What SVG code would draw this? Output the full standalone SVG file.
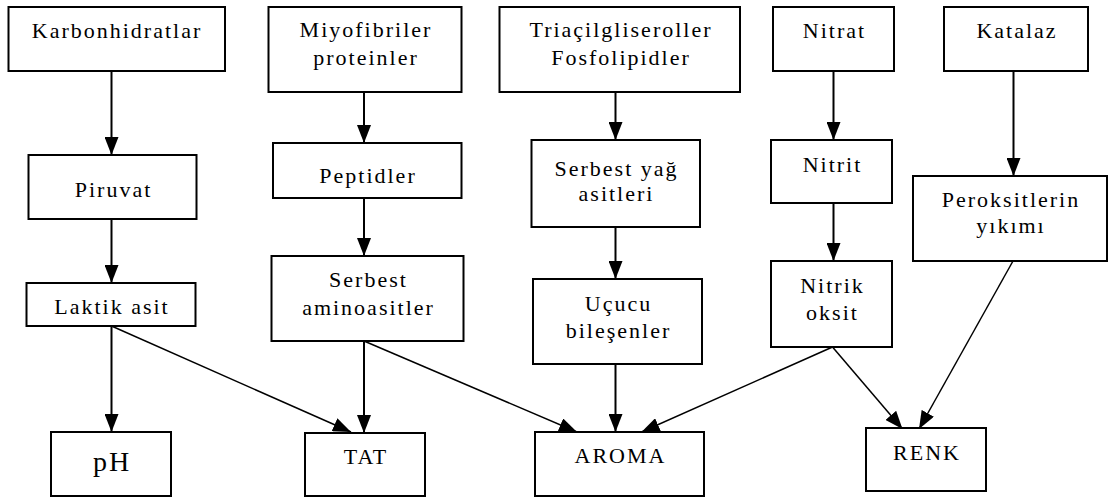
<svg xmlns="http://www.w3.org/2000/svg" width="1117" height="497" viewBox="0 0 1117 497">
<style>
.box{fill:#fff;stroke:#000;stroke-width:2}
.t{font-family:'Liberation Serif','Times New Roman',Times,serif;font-size:22px;letter-spacing:2px;text-anchor:middle;fill:#000}
.big{font-size:28px}
.v{stroke:#000;stroke-width:2;fill:none;marker-end:url(#ah)}
.d{stroke:#000;stroke-width:1.5;fill:none;marker-end:url(#ah)}
</style>
<defs>
<marker id="ah" markerUnits="userSpaceOnUse" markerWidth="18" markerHeight="14" refX="18" refY="7" orient="auto" viewBox="0 0 18 14">
<path d="M0,0 L18,7 L0,14 Z" fill="#000"/>
</marker>
</defs>
<rect width="1117" height="497" fill="#fff"/>
<g id="connectors">
<line class="v" x1="111.5" y1="71" x2="111.5" y2="155"/>
<line class="v" x1="111.5" y1="219" x2="111.5" y2="283"/>
<line class="v" x1="111.5" y1="326" x2="111.5" y2="432"/>
<line class="d" x1="111.5" y1="326" x2="351" y2="432"/>
<line class="v" x1="364" y1="92" x2="364" y2="143"/>
<line class="v" x1="364" y1="198" x2="364" y2="256"/>
<line class="v" x1="364" y1="341" x2="364" y2="433"/>
<line class="d" x1="364" y1="341" x2="577" y2="432"/>
<line class="v" x1="615.5" y1="92" x2="615.5" y2="140"/>
<line class="v" x1="615.5" y1="227" x2="615.5" y2="279"/>
<line class="v" x1="615.5" y1="364" x2="615.5" y2="432"/>
<line class="v" x1="833.5" y1="71" x2="833.5" y2="140"/>
<line class="v" x1="833.5" y1="203" x2="833.5" y2="261"/>
<line class="d" x1="832.5" y1="347" x2="641.5" y2="432"/>
<line class="d" x1="832.5" y1="347" x2="902.5" y2="429"/>
<line class="v" x1="1013.5" y1="71" x2="1013.5" y2="176"/>
<line class="d" x1="1013" y1="261" x2="919" y2="429"/>
</g>
<g id="karbonhidratlar"><rect class="box" x="8.5" y="7" width="216.5" height="64"/><text class="t" x="117" y="38">Karbonhidratlar</text></g>
<g id="miyofibriler"><rect class="box" x="268.5" y="7" width="193" height="85"/><text class="t" x="366" y="37">Miyofibriler</text><text class="t" x="366" y="65">proteinler</text></g>
<g id="triacilgliseroller"><rect class="box" x="499.5" y="7" width="240.5" height="85"/><text class="t" x="621" y="37">Triaçilgliseroller</text><text class="t" x="621" y="65">Fosfolipidler</text></g>
<g id="nitrat"><rect class="box" x="773" y="7" width="121" height="64"/><text class="t" x="834.5" y="38">Nitrat</text></g>
<g id="katalaz"><rect class="box" x="944" y="7" width="144" height="64"/><text class="t" x="1017" y="38">Katalaz</text></g>
<g id="piruvat"><rect class="box" x="28.5" y="155" width="168" height="64"/><text class="t" x="113.5" y="197">Piruvat</text></g>
<g id="peptidler"><rect class="box" x="273" y="143" width="188.5" height="55"/><text class="t" x="368" y="183">Peptidler</text></g>
<g id="serbest-yag-asitleri"><rect class="box" x="531.5" y="140" width="168.5" height="87"/><text class="t" x="616.5" y="176">Serbest yağ</text><text class="t" x="616.5" y="201">asitleri</text></g>
<g id="nitrit"><rect class="box" x="771" y="140" width="121" height="63"/><text class="t" x="832.5" y="172">Nitrit</text></g>
<g id="peroksitlerin-yikimi"><rect class="box" x="913" y="176" width="194" height="85"/><text class="t" x="1011" y="207">Peroksitlerin</text><text class="t" x="1011" y="233">yıkımı</text></g>
<g id="laktik-asit"><rect class="box" x="26.5" y="283" width="169" height="43"/><text class="t" x="112" y="314">Laktik asit</text></g>
<g id="serbest-aminoasitler"><rect class="box" x="271.5" y="256" width="192" height="85"/><text class="t" x="368.5" y="287">Serbest</text><text class="t" x="368.5" y="315">aminoasitler</text></g>
<g id="ucucu-bilesenler"><rect class="box" x="533" y="279" width="169" height="85"/><text class="t" x="618.5" y="311">Uçucu</text><text class="t" x="618.5" y="338">bileşenler</text></g>
<g id="nitrik-oksit"><rect class="box" x="771" y="261" width="121" height="86"/><text class="t" x="832.5" y="293">Nitrik</text><text class="t" x="832.5" y="320">oksit</text></g>
<g id="ph"><rect class="box" x="51" y="432" width="120" height="64"/><text class="t big" x="112" y="471">pH</text></g>
<g id="tat"><rect class="box" x="305" y="433" width="120" height="63"/><text class="t" x="366" y="464">TAT</text></g>
<g id="aroma"><rect class="box" x="535" y="432" width="169" height="64"/><text class="t" x="620.5" y="463">AROMA</text></g>
<g id="renk"><rect class="box" x="866" y="428" width="120" height="63"/><text class="t" x="927" y="460">RENK</text></g>
</svg>
